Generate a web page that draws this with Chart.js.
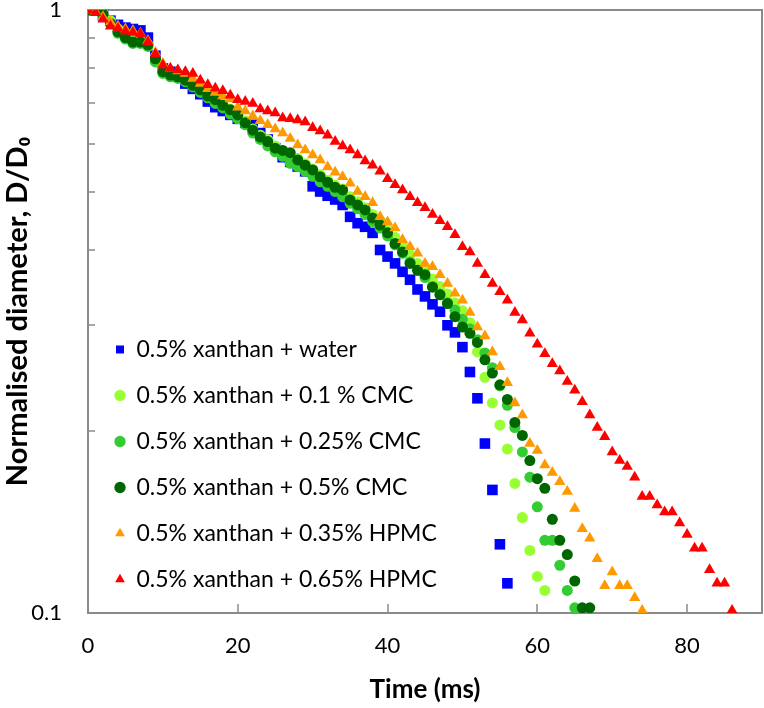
<!DOCTYPE html>
<html><head><meta charset="utf-8">
<script src="https://cdn.jsdelivr.net/npm/chart.js@4.4.1/dist/chart.umd.min.js"></script>
<style>html,body{margin:0;padding:0;background:#fff;overflow:hidden}#wrap{width:764px;height:708px;position:relative}</style>
</head><body><div id="wrap"><canvas id="c" width="764" height="708"></canvas></div>
<script>
const timeMs = [0,1,2,3,4,5,6,7,8,9,10,11,12,13,14,15,16,17,18,19,20,21,22,23,24,25,26,27,28,29,30,31,32,33,34,35,36,37,38,39,40,41,42,43,44,45,46,47,48,49,50,51,52,53,54,55,56,57,58,59,60,61,62,63,64,65,66,67,68,69,70,71,72,73,74,75,76,77,78,79,80,81,82,83,84,85,86];
const seriesNames = ['0.5% xanthan + water','0.5% xanthan + 0.1 % CMC','0.5% xanthan + 0.25% CMC','0.5% xanthan + 0.5% CMC','0.5% xanthan + 0.35% HPMC','0.5% xanthan + 0.65% HPMC'];
const water = [1.0,1.0,0.98,0.96,0.945,0.935,0.93,0.925,0.9,0.84,
 0.80,0.79,0.775,0.755,0.74,0.725,0.705,0.69,0.68,0.67,
 0.66,0.65,0.645,0.625,0.61,0.59,0.57,0.56,0.55,0.54,
 0.51,0.50,0.492,0.485,0.475,0.454,0.443,0.437,0.427,0.40,
 0.39,0.38,0.368,0.357,0.344,0.335,0.325,0.316,0.30,0.292,
 0.276,0.251,0.227,0.191,0.16,0.13,0.112];
const cmc01 = [1.0,1.0,0.99,0.96,0.93,0.905,0.89,0.89,0.875,0.825,
 0.795,0.785,0.775,0.765,0.752,0.74,0.725,0.712,0.70,0.685,
 0.672,0.655,0.635,0.62,0.61,0.595,0.585,0.578,0.568,0.556,
 0.545,0.533,0.522,0.512,0.505,0.49,0.481,0.47,0.458,0.447,
 0.435,0.42,0.407,0.393,0.38,0.372,0.358,0.348,0.338,0.327,
 0.317,0.303,0.271,0.246,0.223,0.205,0.187,0.164,0.144,0.127,
 0.115,0.109];
const cmc025 = [1.0,1.0,0.98,0.95,0.915,0.895,0.88,0.88,0.87,0.82,
 0.785,0.775,0.77,0.76,0.745,0.73,0.715,0.70,0.688,0.672,
 0.66,0.645,0.625,0.61,0.595,0.582,0.572,0.557,0.55,0.54,
 0.53,0.519,0.51,0.50,0.49,0.478,0.468,0.458,0.446,0.435,
 0.422,0.408,0.395,0.382,0.37,0.36,0.348,0.338,0.327,0.318,
 0.307,0.296,0.284,0.27,0.255,0.238,0.221,0.203,0.185,0.168,
 0.15,0.132,0.132,0.12,0.109,0.102];
const cmc05 = [1.0,1.0,0.985,0.95,0.92,0.9,0.885,0.885,0.875,0.83,
 0.79,0.78,0.775,0.765,0.75,0.737,0.72,0.71,0.695,0.683,
 0.67,0.65,0.632,0.616,0.605,0.59,0.585,0.58,0.564,0.553,
 0.543,0.529,0.518,0.508,0.503,0.484,0.475,0.466,0.452,0.44,
 0.427,0.41,0.397,0.38,0.37,0.364,0.347,0.337,0.326,0.31,
 0.298,0.291,0.281,0.263,0.25,0.239,0.226,0.207,0.197,0.179,
 0.167,0.161,0.143,0.132,0.125,0.113,0.102,0.102];
const hpmc035 = [1.0,0.995,0.975,0.955,0.94,0.93,0.925,0.915,0.89,0.85,
 0.815,0.80,0.792,0.785,0.77,0.755,0.74,0.73,0.72,0.712,
 0.69,0.68,0.667,0.655,0.645,0.635,0.625,0.612,0.597,0.586,
 0.575,0.564,0.549,0.538,0.529,0.516,0.50,0.49,0.479,0.454,
 0.445,0.435,0.416,0.405,0.395,0.38,0.375,0.364,0.352,0.339,
 0.33,0.315,0.298,0.288,0.271,0.256,0.241,0.223,0.213,0.191,
 0.186,0.176,0.171,0.165,0.159,0.149,0.138,0.133,0.123,0.111,
 0.117,0.111,0.111,0.106,0.101];
const hpmc065 = [1.0,0.99,0.965,0.94,0.932,0.922,0.918,0.912,0.885,0.845,
 0.81,0.80,0.795,0.79,0.785,0.765,0.752,0.742,0.735,0.722,
 0.71,0.705,0.70,0.685,0.68,0.675,0.662,0.66,0.657,0.652,
 0.638,0.63,0.62,0.605,0.595,0.586,0.575,0.562,0.553,0.54,
 0.525,0.513,0.503,0.49,0.479,0.47,0.458,0.447,0.437,0.424,
 0.405,0.397,0.38,0.364,0.352,0.341,0.33,0.315,0.306,0.291,
 0.279,0.269,0.259,0.252,0.242,0.234,0.224,0.213,0.203,0.196,
 0.185,0.179,0.175,0.168,0.156,0.156,0.151,0.147,0.147,0.141,
 0.135,0.128,0.128,0.118,0.112,0.112,0.101];
const xTickValues = [0,20,40,60,80];
const yTickValues = [0.1,0.2,0.3,0.4,0.5,0.6,0.7,0.8,0.9,1];
const yTickLabels = {'0.1':'0.1','1':'1'};
const xTitle = 'Time (ms)';
const yTitle = 'Normalised diameter, D/D\u2080';

const allValues = [water, cmc01, cmc025, cmc05, hpmc035, hpmc065];
const colors = ['#0000ff','#99ff33','#33cc33','#006600','#ff9900','#ff0000'];
const shapes = ['rect','circle','circle','circle','triangle','triangle'];
const radii = [7.5,5.5,5.5,5.5,6.5,6.5];

const datasets = allValues.map((vals, i) => ({
  label: seriesNames[i],
  data: vals.map((v, k) => ({x: timeMs[k], y: v})),
  pointStyle: shapes[i],
  pointRadius: radii[i],
  pointHoverRadius: radii[i],
  backgroundColor: colors[i],
  borderColor: colors[i],
  borderWidth: 0,
  showLine: false,
  order: allValues.length - 1 - i
}));

const axisColor = '#8a8a8a';
const frameTicks = {
  id: 'frameTicks',
  afterLayout(chart) {
    const lg = chart.legend, a = chart.chartArea;
    if (lg) { lg.top = a.top; lg.bottom = a.bottom + 1; lg.left = a.left + 4; }
  },
  beforeDatasetsDraw(chart) {
    const {ctx, chartArea: a, scales: {x, y}} = chart;
    ctx.save();
    ctx.strokeStyle = axisColor;
    ctx.lineWidth = 2;
    ctx.strokeRect(a.left, a.top, a.right - a.left, a.bottom - a.top);
    ctx.lineWidth = 1.5;
    ctx.beginPath();
    x.ticks.forEach(t => { if (t.value === x.min) return; const px = Math.round(x.getPixelForValue(t.value)); ctx.moveTo(px, a.bottom); ctx.lineTo(px, a.bottom - 9); });
    y.ticks.forEach(t => { if (t.value === y.min || t.value === y.max) return; const py = Math.round(y.getPixelForValue(t.value)); ctx.moveTo(a.left, py); ctx.lineTo(a.left + 7, py); });
    ctx.stroke();
    ctx.restore();
  }
};

Chart.defaults.font.family = 'Lato';
Chart.defaults.color = '#000';
new Chart(document.getElementById('c'), {
  type: 'scatter',
  data: { datasets },
  plugins: [frameTicks],
  options: {
    responsive: false,
    animation: false,
    devicePixelRatio: 1,
    layout: { autoPadding: false, padding: { top: 10, right: 2, left: 0, bottom: 0 } },
    plugins: {
      tooltip: { enabled: false },
      legend: {
        position: 'chartArea',
        align: 'end',
        labels: {
          usePointStyle: true,
          boxWidth: 10,
          boxHeight: 8,
          padding: 23,
          color: '#000',
          font: { size: 23 },
          sort: (a, b) => a.datasetIndex - b.datasetIndex
        }
      }
    },
    scales: {
      x: {
        type: 'linear', min: 0, max: 90,
        afterBuildTicks: s => { s.ticks = xTickValues.map(v => ({value: v})); },
        afterFit: s => { s.height = 95; s.paddingLeft = 0; s.paddingRight = 0; },
        grid: { display: false, drawTicks: false },
        border: { display: false },
        ticks: { padding: 20, font: { size: 22 }, color: '#000', maxRotation: 0 },
        title: { display: true, text: xTitle, font: { size: 26, weight: 'bold' }, color: '#000', padding: { top: 0, bottom: 3 } }
      },
      y: {
        type: 'logarithmic', min: 0.1, max: 1,
        afterBuildTicks: s => { s.ticks = yTickValues.map(v => ({value: v})); },
        afterFit: s => { s.width = 88; s.paddingTop = 0; s.paddingBottom = 0; },
        grid: { display: false, drawTicks: false },
        border: { display: false },
        ticks: { padding: 26, font: { size: 22 }, color: '#000', autoSkip: false,
          callback: v => yTickLabels[String(v)] || '' },
        title: { display: true, text: yTitle, font: { size: 29, weight: 'bold' }, color: '#000', padding: { top: 0, bottom: 0 } }
      }
    }
  }
});
</script></body></html>
